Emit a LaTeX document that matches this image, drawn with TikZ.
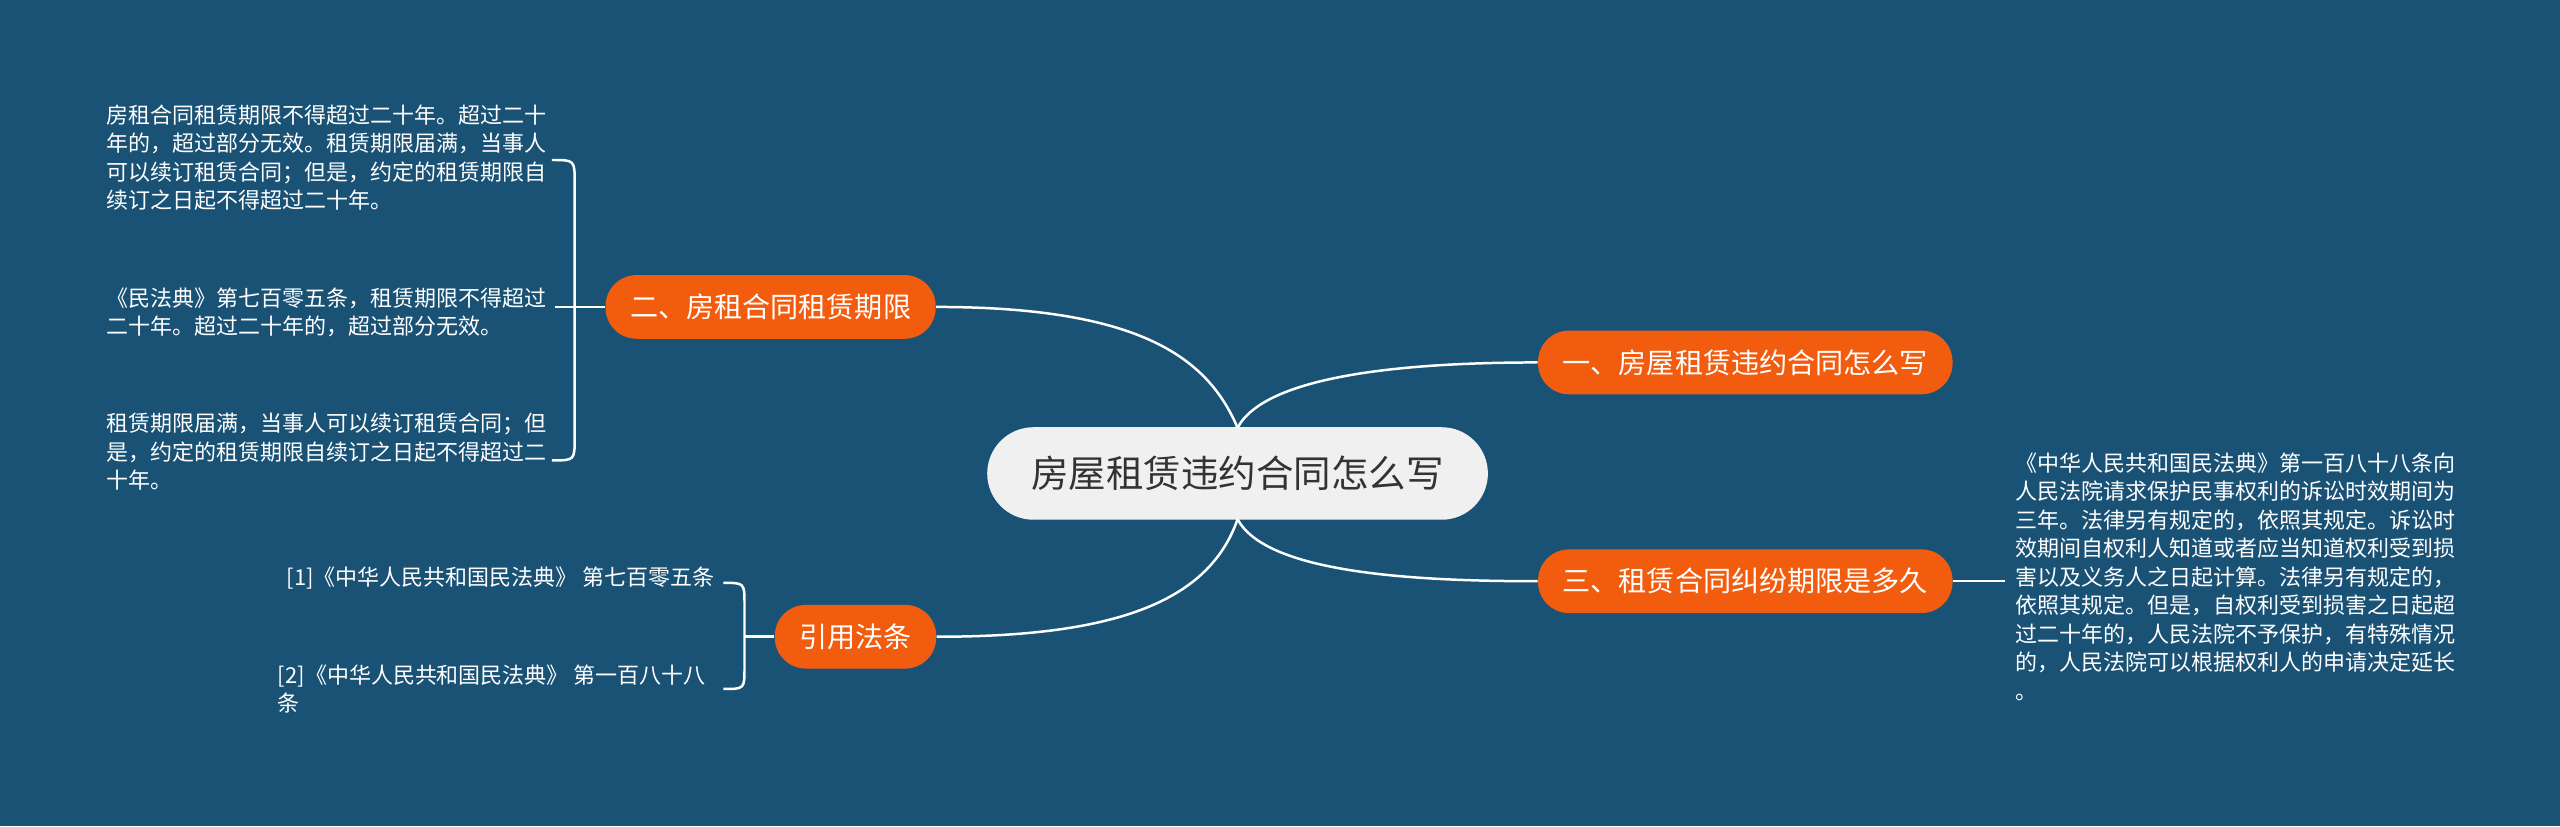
\documentclass[tikz,border=0pt]{standalone}
\usepackage{fontspec}
\setmainfont{Noto Sans CJK SC}
\definecolor{bg}{RGB}{26,82,118}
\definecolor{org}{RGB}{242,92,14}
\definecolor{cen}{RGB}{240,240,240}
\begin{document}
\begin{tikzpicture}[x=0.03cm,y=-0.03cm,
 topic/.style={fill=org,text=white,rounded corners=0.57cm,minimum height=1.17cm,inner xsep=0.45cm,font=\fontsize{14.7pt}{17pt}\selectfont},
 leaf/.style={text=white,align=left,inner sep=0pt,font=\fontsize{11.5pt}{14.9pt}\selectfont,anchor=north west},
 link/.style={draw=white,line width=1.3pt}]
\fill[bg] (0,0) rectangle (1568,506);
\useasboundingbox (0,0) rectangle (1568,506);
\node[fill=cen,rounded corners=0.85cm,minimum width=9.2cm,minimum height=1.7cm,font=\fontsize{19.6pt}{22pt}\selectfont,text=black!80] (c) at (758,290) {房屋租赁违约合同怎么写};
\node[topic] (n1) at (1069,222) {一、房屋租赁违约合同怎么写};
\node[topic] (n2) at (472,188) {二、房租合同租赁期限};
\node[topic] (n3) at (1069,356) {三、租赁合同纠纷期限是多久};
\node[topic] (n4) at (524,390) {引用法条};
\coordinate (ct) at (758,262);
\coordinate (cb) at (758,318);
\draw[link] (n2.east) .. controls (700,188) and (740,220) .. (ct);
\draw[link] (ct) .. controls (775,230) and (860,222) .. (n1.west);
\draw[link] (cb) .. controls (775,350) and (860,356) .. (n3.west);
\draw[link] (cb) .. controls (740,370) and (680,390) .. (n4.east);
% left leaves
\node[leaf] (l1) at (65,64) {房租合同租赁期限不得超过二十年。超过二十\\年的，超过部分无效。租赁期限届满，当事人\\可以续订租赁合同；但是，约定的租赁期限自\\续订之日起不得超过二十年。};
\node[leaf] (l2) at (65,176) {《民法典》第七百零五条，租赁期限不得超过\\二十年。超过二十年的，超过部分无效。};
\node[leaf] (l3) at (65,253) {租赁期限届满，当事人可以续订租赁合同；但\\是，约定的租赁期限自续订之日起不得超过二\\十年。};
\coordinate (b1) at (338,98);
\coordinate (b3) at (338,282);
\coordinate (b2) at (340,188);
\draw[link] (b1) .. controls (352,98) .. (352,112) -- (352,268) .. controls (352,282) .. (b3);
\draw[link] (b2) -- (n2.west);
% n4 leaves
\node[leaf,anchor=north east] (r1) at (438,347) {[1]《中华人民共和国民法典》 第七百零五条};
\node[leaf] (r2) at (170,407) {[2]《中华人民共和国民法典》 第一百八十八\\条};
\coordinate (d1) at (443,357);
\coordinate (d2) at (443,422);
\draw[link] (d1) .. controls (456,357) .. (456,370) -- (456,409) .. controls (456,422) .. (d2);
\draw[link] (456,390) -- (n4.west);
% n3 leaf
\node[leaf] (t) at (1234,277) {《中华人民共和国民法典》第一百八十八条向\\人民法院请求保护民事权利的诉讼时效期间为\\三年。法律另有规定的，依照其规定。诉讼时\\效期间自权利人知道或者应当知道权利受到损\\害以及义务人之日起计算。法律另有规定的，\\依照其规定。但是，自权利受到损害之日起超\\过二十年的，人民法院不予保护，有特殊情况\\的，人民法院可以根据权利人的申请决定延长\\。};
\draw[link] (n3.east) -- (1228,356);
\end{tikzpicture}
\end{document}
